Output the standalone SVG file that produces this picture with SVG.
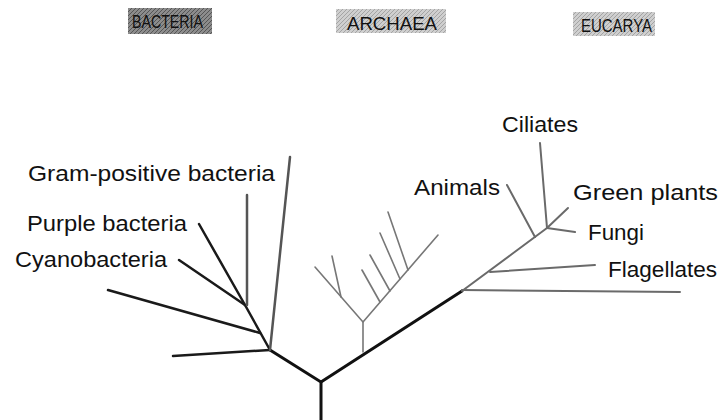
<svg xmlns="http://www.w3.org/2000/svg" width="720" height="420" viewBox="0 0 720 420">
<style>
.lbl{font-family:"Liberation Sans",Arial,sans-serif;font-size:22px;fill:#111;}
.dom{font-family:"Liberation Sans",Arial,sans-serif;font-size:18px;fill:#111;}
.thick{stroke:#111;stroke-width:3;fill:none;stroke-linecap:round;}
.bk{stroke:#1a1a1a;stroke-width:2.5;fill:none;stroke-linecap:round;}
.gp{stroke:#555;stroke-width:2.5;fill:none;stroke-linecap:round;}
.ar{stroke:#777;stroke-width:1.6;fill:none;stroke-linecap:round;}
.eu{stroke:#6a6a6a;stroke-width:2;fill:none;stroke-linecap:round;}
</style>
<defs>
<pattern id="hatchDark" width="4" height="4" patternUnits="userSpaceOnUse">
<rect width="4" height="4" fill="#8c8c8c"/>
<path d="M0,4 L4,0" stroke="#555" stroke-width="1"/>
</pattern>
<pattern id="hatchLight" width="4" height="4" patternUnits="userSpaceOnUse">
<rect width="4" height="4" fill="#cfcfcf"/>
<path d="M0,4 L4,0" stroke="#999" stroke-width="0.8"/>
</pattern>
</defs>
<rect width="720" height="420" fill="#fff"/>

<g id="domain-bacteria">
<rect x="128" y="8" width="84" height="26" fill="url(#hatchDark)"/>
<text class="dom" x="132" y="28" textLength="71" lengthAdjust="spacingAndGlyphs">BACTERIA</text>
</g>
<g id="domain-archaea">
<rect x="336" y="9" width="110" height="24" fill="url(#hatchLight)"/>
<text class="dom" x="347" y="30" textLength="90" lengthAdjust="spacingAndGlyphs">ARCHAEA</text>
</g>
<g id="domain-eucarya">
<rect x="573" y="12" width="82" height="24" fill="url(#hatchLight)"/>
<text class="dom" x="581" y="32" textLength="71" lengthAdjust="spacingAndGlyphs">EUCARYA</text>
</g>

<g id="connectors">
<!-- root and main branches -->
<path class="thick" d="M321,420 L321,382 L270,350"/>
<path class="thick" d="M321,382 L462,291"/>
<!-- bacteria -->
<path class="bk" d="M270,350 L173,356"/>
<path class="bk" d="M270,350 L245,305"/>
<path class="bk" d="M260,333 L108,290"/>
<path class="bk" d="M245,305 L199,224"/>
<path class="bk" d="M245,305 L179,260"/>
<path class="gp" d="M247,305 L247,195"/>
<path class="gp" d="M270,350 L290,157"/>
<!-- archaea -->
<path class="ar" d="M363,352 L363,322 L315,267"/>
<path class="ar" d="M341,297 L332,256"/>
<path class="ar" d="M363,322 L438,235"/>
<path class="ar" d="M380,302 L362,270"/>
<path class="ar" d="M390,291 L370,255"/>
<path class="ar" d="M400,279 L380,233"/>
<path class="ar" d="M408,270 L388,212"/>
<!-- eucarya -->
<path class="eu" d="M462,291 L547,228"/>
<path class="eu" d="M462,290 L680,292"/>
<path class="eu" d="M490,272 L595,265"/>
<path class="eu" d="M535,237 L507,185"/>
<path class="eu" d="M547,228 L540,143"/>
<path class="eu" d="M547,228 L568,208"/>
<path class="eu" d="M547,228 L575,232"/>
</g>

<g id="node-gram-positive"><text class="lbl" x="28" y="181" textLength="247" lengthAdjust="spacingAndGlyphs">Gram-positive bacteria</text></g>
<g id="node-purple"><text class="lbl" x="27" y="231" textLength="160" lengthAdjust="spacingAndGlyphs">Purple bacteria</text></g>
<g id="node-cyano"><text class="lbl" x="15" y="267" textLength="152" lengthAdjust="spacingAndGlyphs">Cyanobacteria</text></g>
<g id="node-animals"><text class="lbl" x="414" y="195" textLength="86" lengthAdjust="spacingAndGlyphs">Animals</text></g>
<g id="node-ciliates"><text class="lbl" x="502" y="132" textLength="76" lengthAdjust="spacingAndGlyphs">Ciliates</text></g>
<g id="node-green-plants"><text class="lbl" x="573" y="200" textLength="145" lengthAdjust="spacingAndGlyphs">Green plants</text></g>
<g id="node-fungi"><text class="lbl" x="588" y="240" textLength="56" lengthAdjust="spacingAndGlyphs">Fungi</text></g>
<g id="node-flagellates"><text class="lbl" x="608" y="277" textLength="109" lengthAdjust="spacingAndGlyphs">Flagellates</text></g>
</svg>
